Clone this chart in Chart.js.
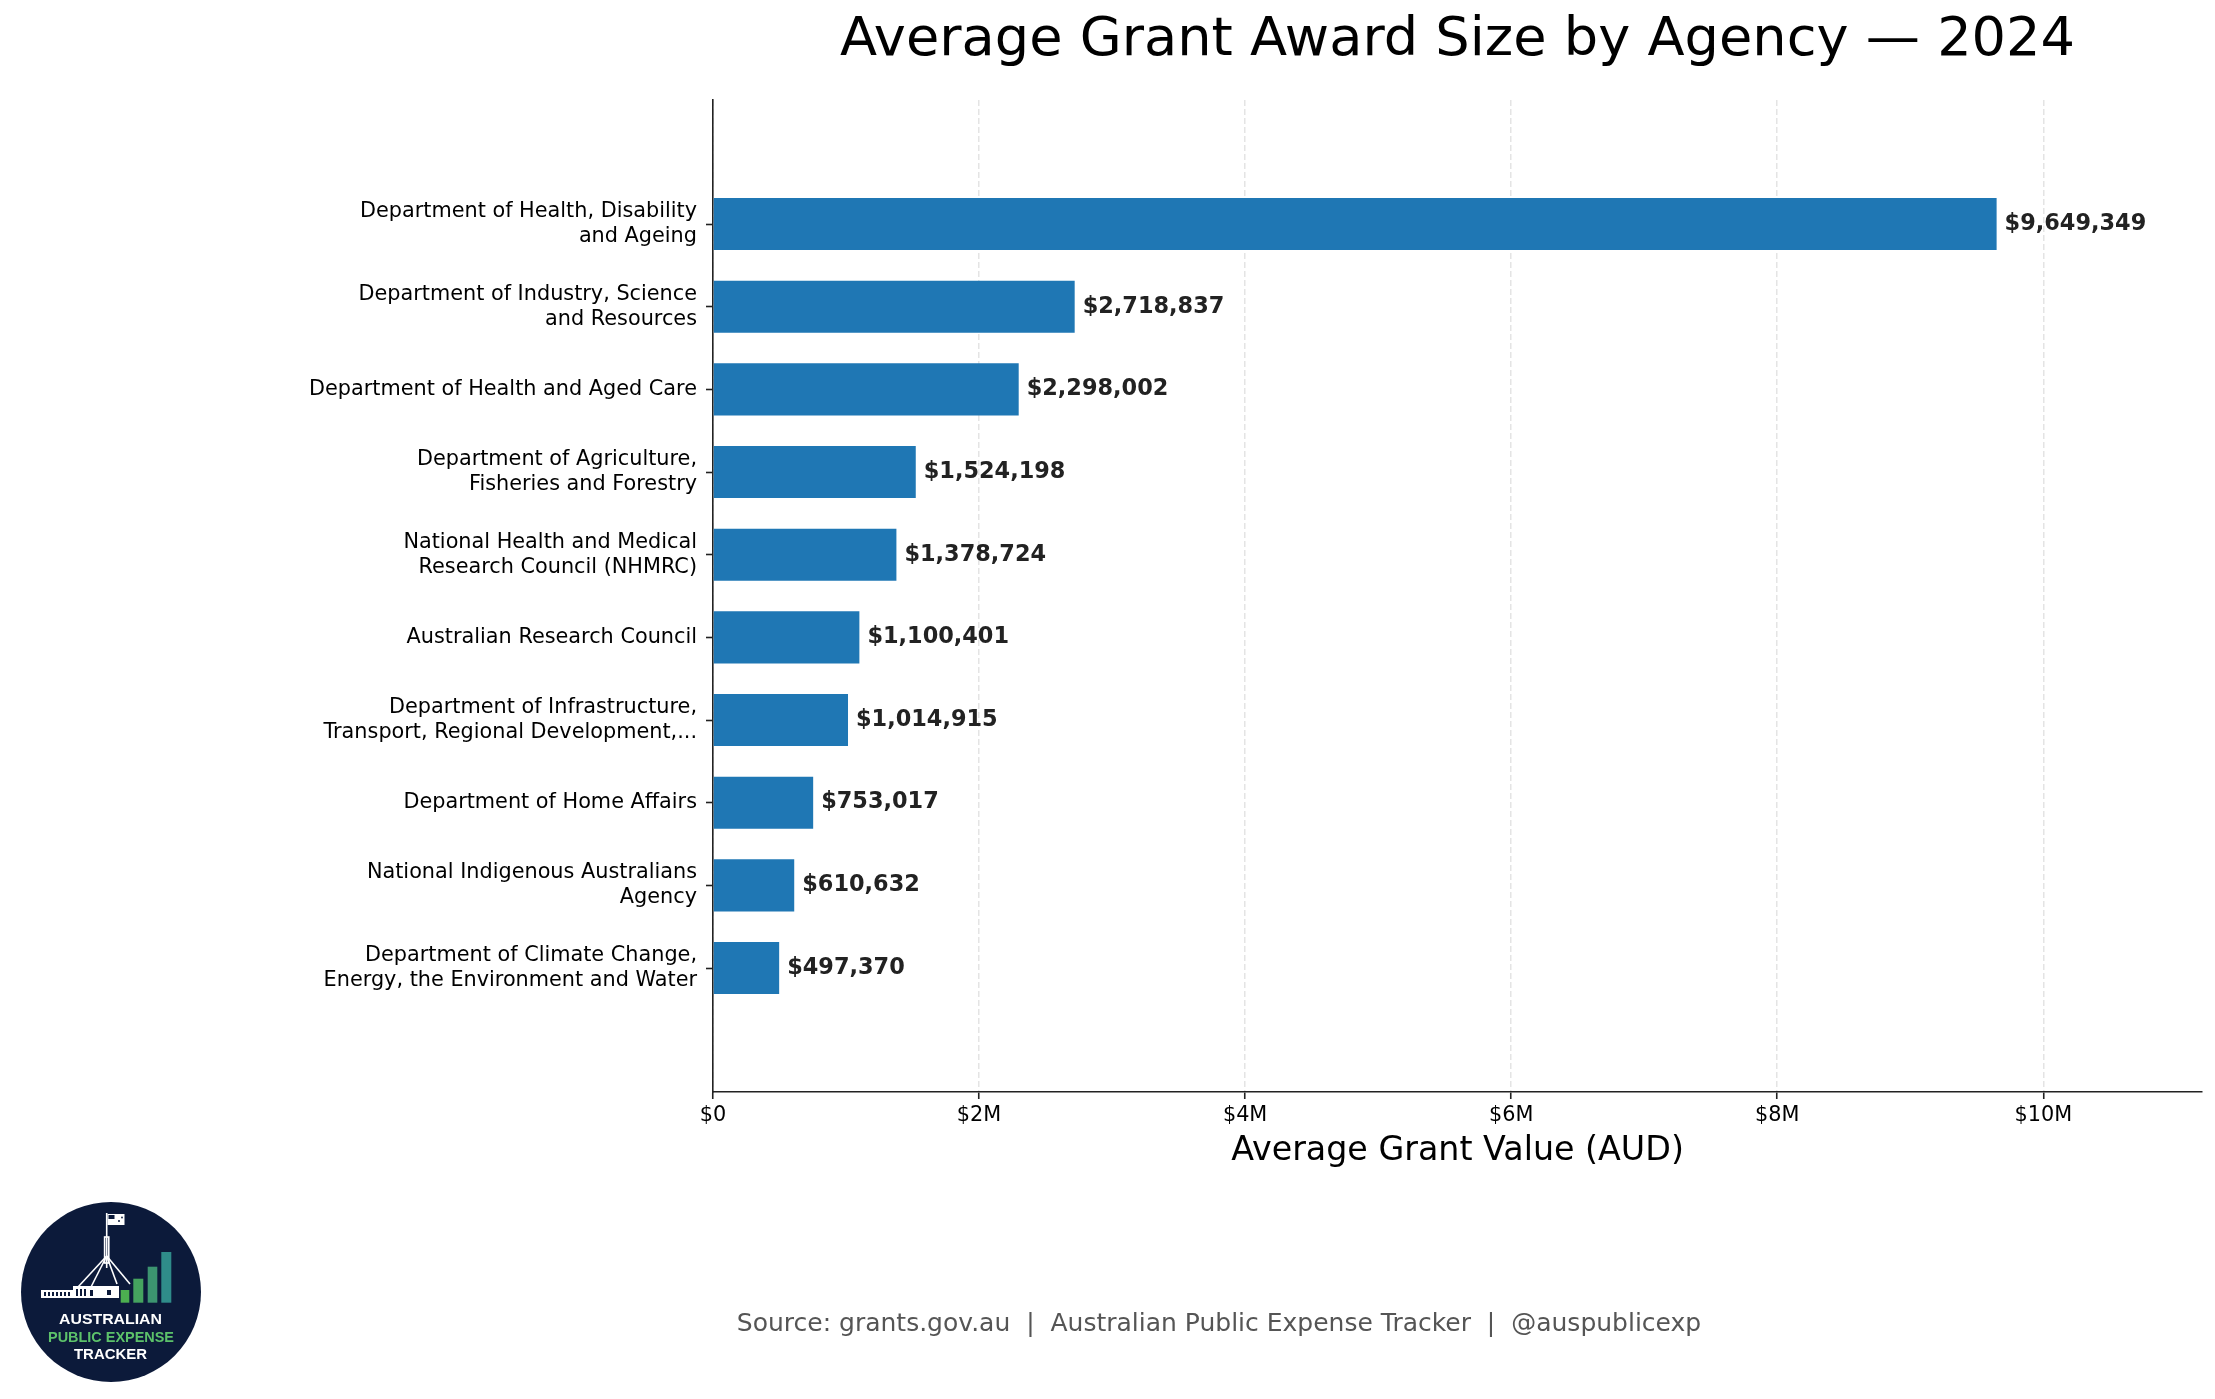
<!DOCTYPE html>
<html>
<head>
<meta charset="utf-8">
<script src="https://cdn.jsdelivr.net/npm/chart.js@4.4.1/dist/chart.umd.min.js"></script>
<style>
  html, body { margin: 0; padding: 0; background: #ffffff; }
  #wrap { position: relative; width: 2215px; height: 1399px; overflow: hidden; }
  #c { position: absolute; left: 0; top: 0; }
  #source { position: absolute; left: 1219px; top: 1310px; transform: translateX(-50%);
            font-family: 'DejaVu Sans', sans-serif; font-size: 25px; line-height: 1; color: #555555; white-space: pre; }
  #logo { position: absolute; left: 0; top: 1180px; }
</style>
</head>
<body>
<div id="wrap">
  <canvas id="c" width="2215" height="1399"></canvas>
  <div id="source">Source: grants.gov.au  |  Australian Public Expense Tracker  |  @auspublicexp</div>
  <svg id="logo" width="260" height="219" viewBox="0 0 260 219" xmlns="http://www.w3.org/2000/svg">
    <circle cx="111" cy="112" r="90" fill="#0c1a3a"/>
    <!-- building -->
    <rect x="41" y="110" width="32" height="8" fill="#ffffff"/>
    <rect x="73" y="106" width="46" height="12" fill="#ffffff"/>
    <g fill="#0c1a3a">
      <rect x="44" y="112" width="2" height="4"/><rect x="48" y="112" width="2" height="4"/>
      <rect x="52" y="112" width="2" height="4"/><rect x="56" y="112" width="2" height="4"/>
      <rect x="60" y="112" width="2" height="4"/><rect x="64" y="112" width="2" height="4"/>
      <rect x="68" y="112" width="2" height="4"/>
      <rect x="76" y="109" width="2" height="7"/><rect x="80" y="109" width="2" height="7"/>
      <rect x="84" y="109" width="2" height="7"/><rect x="90" y="110" width="3" height="6"/>
      <rect x="107" y="110" width="4" height="5"/>
    </g>
    <!-- flag pole & legs -->
    <g stroke="#ffffff" stroke-width="1.6" fill="none">
      <line x1="106.7" y1="33" x2="106.7" y2="88"/>
      <rect x="104.6" y="57" width="4.2" height="26"/>
      <line x1="106.7" y1="76" x2="78" y2="107"/>
      <line x1="106.7" y1="76" x2="91" y2="107"/>
      <line x1="106.7" y1="76" x2="117" y2="104"/>
      <line x1="106.7" y1="76" x2="130" y2="104"/>
    </g>
    <rect x="107.5" y="34" width="17" height="11" fill="#ffffff"/>
    <g fill="#0c1a3a"><rect x="108.5" y="35" width="6" height="4"/><circle cx="119" cy="41" r="1"/><circle cx="122" cy="37.5" r="0.9"/></g>
    <!-- bars -->
    <rect x="120.7" y="110" width="8.6" height="12.7" fill="#4caf50"/>
    <rect x="133.3" y="98.7" width="10" height="24" fill="#45a35f"/>
    <rect x="147.7" y="86.7" width="9.6" height="36" fill="#3c9470"/>
    <rect x="161.3" y="72" width="10" height="50.7" fill="#2f8c8a"/>
    <!-- text -->
    <g font-family="'Liberation Sans', Arial, sans-serif" font-weight="bold" font-size="15" text-anchor="middle">
      <text x="110.5" y="144" fill="#ffffff" textLength="103" lengthAdjust="spacingAndGlyphs">AUSTRALIAN</text>
      <text x="111" y="161.7" fill="#5cc26a" textLength="126" lengthAdjust="spacingAndGlyphs">PUBLIC EXPENSE</text>
      <text x="110.5" y="179.3" fill="#ffffff" textLength="73" lengthAdjust="spacingAndGlyphs">TRACKER</text>
    </g>
  </svg>
</div>
<script>
// ---- Data ----
const categories = [
  "Department of Health, Disability\nand Ageing",
  "Department of Industry, Science\nand Resources",
  "Department of Health and Aged Care",
  "Department of Agriculture,\nFisheries and Forestry",
  "National Health and Medical\nResearch Council (NHMRC)",
  "Australian Research Council",
  "Department of Infrastructure,\nTransport, Regional Development,...",
  "Department of Home Affairs",
  "National Indigenous Australians\nAgency",
  "Department of Climate Change,\nEnergy, the Environment and Water"
];
const values = [9649349, 2718837, 2298002, 1524198, 1378724, 1100401, 1014915, 753017, 610632, 497370];
const xTickValues = [0, 2000000, 4000000, 6000000, 8000000, 10000000];
const xTickLabels = ["$0", "$2M", "$4M", "$6M", "$8M", "$10M"];

const titleText = "Average Grant Award Size by Agency \u2014 2024";
const xAxisTitle = "Average Grant Value (AUD)";

const xMax = Math.max(...values) * 1.16;

Chart.defaults.font.family = "'DejaVu Sans', sans-serif";
Chart.defaults.color = "#000000";

const valueLabels = {
  id: 'valueLabels',
  afterDatasetsDraw(chart) {
    const ctx = chart.ctx;
    const meta = chart.getDatasetMeta(0);
    ctx.save();
    ctx.font = "bold 22.4px 'DejaVu Sans', sans-serif";
    ctx.fillStyle = "#222222";
    ctx.textAlign = "left";
    ctx.textBaseline = "middle";
    meta.data.forEach((bar, i) => {
      ctx.fillText("$" + values[i].toLocaleString("en-US"), bar.x + 8, bar.y);
    });
    ctx.restore();
  }
};

new Chart(document.getElementById('c'), {
  type: 'bar',
  data: {
    datasets: [{
      data: values.map((v, i) => ({ x: v, y: i })),
      backgroundColor: '#1f77b4',
      borderWidth: 0,
      barPercentage: 0.63,
      categoryPercentage: 1.0
    }]
  },
  options: {
    indexAxis: 'y',
    responsive: false,
    animation: false,
    devicePixelRatio: 1,
    layout: { padding: { left: 0, right: 13, top: 0, bottom: 207 } },
    plugins: {
      legend: { display: false },
      tooltip: { enabled: false },
      title: {
        display: true,
        text: titleText,
        fullSize: false,
        color: '#000000',
        font: { size: 54.2, weight: 'normal' },
        padding: { top: 8, bottom: 27 }
      }
    },
    scales: {
      x: {
        type: 'linear',
        position: 'bottom',
        min: 0,
        max: xMax,
        afterBuildTicks: s => { s.ticks = xTickValues.map(v => ({ value: v })); },
        ticks: {
          callback: (v) => { const k = xTickValues.indexOf(v); return k >= 0 ? xTickLabels[k] : ''; },
          font: { size: 20.8 },
          color: '#000000',
          padding: 4,
          maxRotation: 0,
          autoSkip: false
        },
        grid: { color: '#e4e4e4', lineWidth: 1.5, tickLength: 7, tickColor: '#222222', tickWidth: 1.6 },
        border: { color: '#222222', width: 1.6, dash: [6, 3] },
        title: {
          display: true,
          text: xAxisTitle,
          color: '#000000',
          font: { size: 33.3 },
          padding: { top: 0, bottom: 21 }
        },
        afterFit: s => { s.height = 100; }
      },
      y: {
        type: 'linear',
        min: -1.5,
        max: 10.5,
        reverse: true,
        offset: false,
        afterBuildTicks: s => { s.ticks = categories.map((c, i) => ({ value: i })); },
        ticks: {
          callback: (v) => (categories[v] !== undefined ? categories[v].split('\n') : ''),
          font: { size: 20.8 },
          color: '#000000',
          padding: 9,
          autoSkip: false
        },
        grid: { offset: false, drawOnChartArea: false, tickLength: 7, tickColor: '#222222', tickWidth: 1.6 },
        border: { color: '#222222', width: 1.6 },
        afterFit: s => { s.width = 713; }
      }
    }
  },
  plugins: [valueLabels]
});
</script>
</body>
</html>
